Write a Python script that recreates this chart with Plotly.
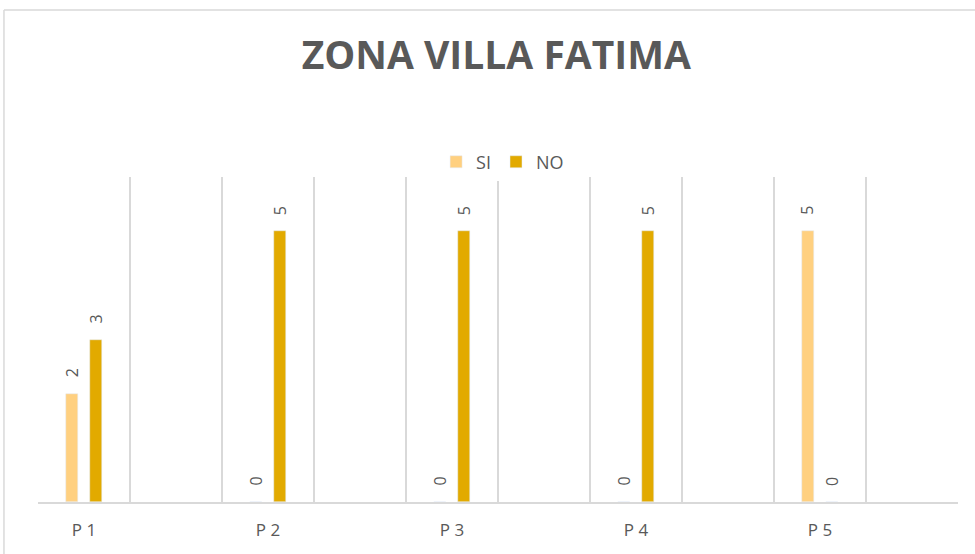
import plotly.graph_objects as go

# datos
categorias = ["P 1", "P 2", "P 3", "P 4", "P 5"]
si = [2, 0, 0, 0, 5]
no = [3, 5, 5, 5, 0]

# Excel deja una categoria vacia entre cada pregunta
eje_x = []
for i, c in enumerate(categorias):
    eje_x.append(c)
    eje_x.append(" " * (i + 1))

GRIS = "#595959"
FUENTE = "Open Sans"

fig = go.Figure()
fig.add_trace(go.Bar(x=categorias, y=si, name="SI", marker_color="#FFD080",
                     width=0.13, offset=-0.2))
fig.add_trace(go.Bar(x=categorias, y=no, name="NO", marker_color="#E2AA00",
                     width=0.13, offset=0.065))

# etiquetas de datos rotadas
for serie, dx in ((si, -0.135), (no, 0.13)):
    for c, v in zip(categorias, serie):
        fig.add_annotation(x=eje_x.index(c) + dx, y=v, text=str(v), showarrow=False,
                           textangle=-90, yshift=21, xanchor="center", yanchor="middle",
                           font=dict(family=FUENTE, size=16, color=GRIS))

# borde del area del grafico
fig.add_shape(type="line", xref="paper", yref="paper", x0=-0.037, x1=1.2, y0=1.514, y1=1.514,
              line=dict(color="#d9d9d9", width=1.5))
fig.add_shape(type="line", xref="paper", yref="paper", x0=-0.037, x1=-0.037, y0=-0.3, y1=1.514,
              line=dict(color="#d9d9d9", width=1.5))

fig.update_layout(
    width=975, height=554,
    margin=dict(l=38, r=17, t=177, b=52),
    paper_bgcolor="white", plot_bgcolor="white",
    title=dict(text="<b>ZONA VILLA FATIMA</b>", x=0.509, xanchor="center", y=0.9007, yanchor="middle",
               font=dict(family=FUENTE, size=39, color=GRIS)),
    legend=dict(orientation="h", x=0.505, xanchor="center", y=1.046, yanchor="middle",
                font=dict(family=FUENTE, size=18, color=GRIS), itemwidth=30),
    showlegend=True,
    bargap=0, barmode="group",
)
fig.update_xaxes(type="category", categoryorder="array", categoryarray=eje_x, range=[-0.5, 9.5],
                 tickson="boundaries", showgrid=True, gridcolor="#d9d9d9", gridwidth=1.5,
                 showline=True, linecolor="#d9d9d9", linewidth=2, ticks="",
                 ticklabelstandoff=12, tickfont=dict(family=FUENTE, size=17, color=GRIS))
fig.update_yaxes(range=[0, 6], visible=False, showgrid=False, zeroline=False)

# quitar el margen por defecto del body para que el grafico ocupe toda la ventana
fig.write_html("out.html", config={"displayModeBar": False},
               post_script="document.body.style.margin='0';document.body.style.overflow='hidden';")
